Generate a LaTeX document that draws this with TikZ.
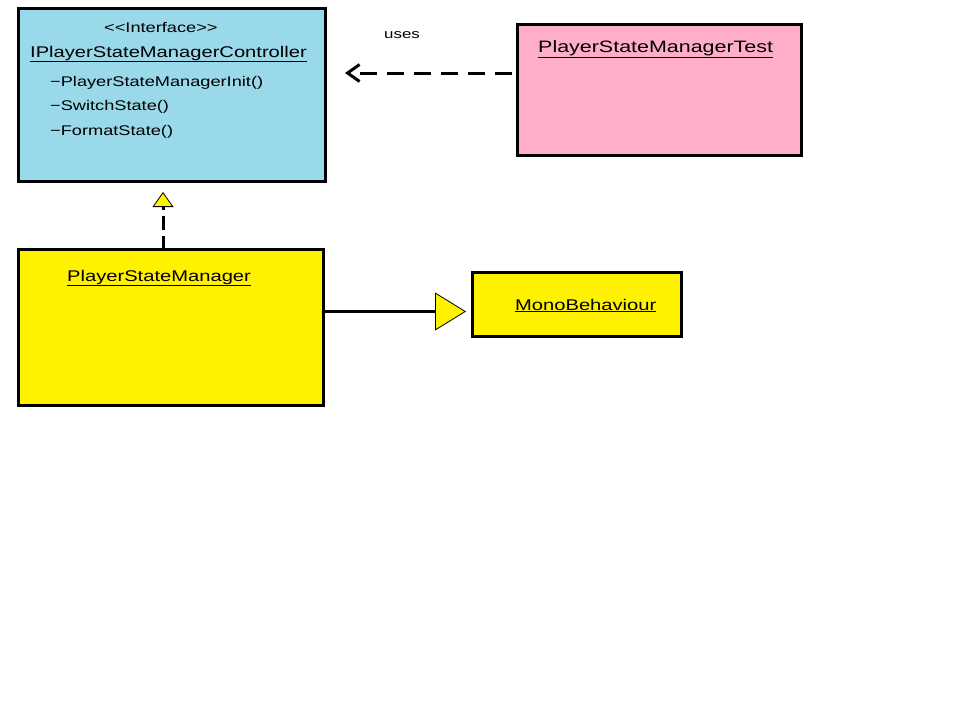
\documentclass[tikz,border=0pt]{standalone}
\usepackage{fontspec}
\setmainfont{Liberation Sans}[FakeStretch=1.3]
\usetikzlibrary{arrows.meta}
\definecolor{ifblue}{HTML}{99D9EA}
\definecolor{tpink}{HTML}{FFAEC9}
\definecolor{pyellow}{HTML}{FFF200}
\tikzset{
  classbox/.style={draw=black, line width=3pt, inner sep=0pt, outer sep=0pt, anchor=north west},
  lbl/.style={anchor=base west, inner sep=0pt, font=\fontsize{15.5}{18}\selectfont},
  meth/.style={anchor=base west, inner sep=0pt, font=\fontsize{14}{17}\selectfont},
  smalllbl/.style={anchor=base west, inner sep=0pt, font=\fontsize{13}{15}\selectfont},
  inherit/.style={line width=3pt, -{Triangle[length=31pt,width=38pt,fill=pyellow,line width=0.8pt 0]}},
  realize/.style={line width=3pt, dash pattern=on 14pt off 6pt, -{Triangle[length=15pt,width=21pt,fill=pyellow,line width=0.8pt 0]}},
  usesarrow/.style={line width=3pt, dash pattern=on 17pt off 10pt, -{Straight Barb[length=12pt,width=17pt,line width=3pt 0]}}
}
\begin{document}
\begin{tikzpicture}[x=1pt,y=-1pt]
\useasboundingbox (0,0) rectangle (960,710);
% boxes
\node[classbox, fill=ifblue, minimum width=307pt, minimum height=173pt] (iface) at (18.5,8.5) {};
\node[classbox, fill=tpink, minimum width=284pt, minimum height=131pt] (test) at (517.5,24.5) {};
\node[classbox, fill=pyellow, minimum width=305pt, minimum height=156pt] (psm) at (18.5,249.5) {};
\node[classbox, fill=pyellow, minimum width=209pt, minimum height=64pt] (mono) at (472.5,272.5) {};
% texts
\node[smalllbl, font=\fontsize{14}{17}\selectfont] (stereo) at (104,32) {<{}<Interface>{}>};
\node[lbl] (ifname) at (30,57) {\underline{IPlayerStateManagerController}};
\node[meth] (m1) at (50,86) {−PlayerStateManagerInit()};
\node[meth] (m2) at (50,110) {−SwitchState()};
\node[meth] (m3) at (50,135) {−FormatState()};
\node[lbl, font=\fontsize{16.5}{19}\selectfont] (testname) at (538,52) {\underline{PlayerStateManagerTest}};
\node[lbl] (psmname) at (67,281) {\underline{PlayerStateManager}};
\node[lbl] (mononame) at (515,310) {\underline{MonoBehaviour}};
\node[smalllbl] (uses) at (384,38) {uses};
% connector ends
\coordinate (utip) at (345,73);
\coordinate (rtip) at (163,192);
\coordinate (gtip) at (466,311.5);
% connectors
\draw[usesarrow, shorten <=6pt] (utip -| test.west) -- (utip);
\draw[realize] (rtip |- psm.north) -- (rtip);
\draw[inherit] (gtip -| psm.east) -- (gtip);
\end{tikzpicture}
\end{document}
